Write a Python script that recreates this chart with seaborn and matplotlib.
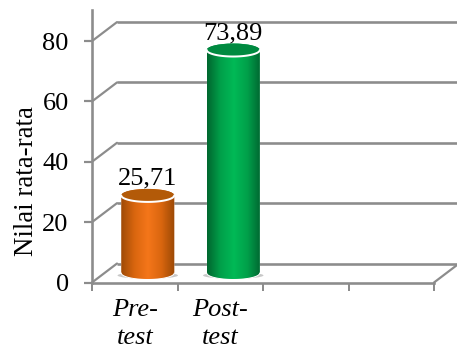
import numpy as np
import pandas as pd
import matplotlib
matplotlib.use("Agg")
import matplotlib.pyplot as plt
from matplotlib.colors import LinearSegmentedColormap
from matplotlib.patches import Ellipse
from matplotlib.path import Path
from matplotlib.transforms import ScaledTranslation
import seaborn as sns

categories = ["Pre-\ntest", "Post-\ntest"]
empty_slots = [" ", "  "]
values = [25.71, 73.89]
y_ticks = [0, 20, 40, 60, 80]
y_label = "Nilai rata-rata"

side_colors = [["#9E4A06", "#D9660F", "#F5761A", "#D9660F", "#9A4805"],
               ["#00662F", "#00A04A", "#00B956", "#00A04A", "#006530"]]
top_colors = ["#B35A08", "#008A40"]
frame_color = "#8C8C8C"

sns.set_theme(style="white")
plt.rcParams["font.family"] = ["Liberation Serif", "DejaVu Serif"]

W, H = 457, 354
DPI = 100
PX = 72 / DPI
fig = plt.figure(figsize=(W / DPI, H / DPI), dpi=DPI, facecolor="white")
ax = fig.add_axes([92 / W, (H - 282.5) / H, (434 - 92) / W, (282.5 - 10) / H])
ax.patch.set_alpha(0)

df = pd.DataFrame({"kelompok": categories, "nilai": values})
sns.barplot(data=df, x="kelompok", y="nilai", hue="kelompok",
            order=categories + empty_slots, hue_order=categories,
            palette=[c[2] for c in side_colors], width=0.62,
            legend=False, ax=ax, zorder=3)

ax.set_xlim(-0.5, 3.5)
ax.set_ylim(0, 90.3)


def shifted(dx, dy):
    """Data transform moved by a number of pixels, for the depth of the 3-D box."""
    return ax.transData + ScaledTranslation(dx * PX / 72, dy * PX / 72, fig.dpi_scale_trans)


# Back wall and the slanted edges on the left side and the floor
depth = shifted(25, 19)
for v in y_ticks:
    ax.plot([-0.5, 4.0], [v, v], transform=depth, color=frame_color,
            lw=2.6 * PX, clip_on=False, zorder=1, solid_capstyle="butt")
    ax.plot([-0.5, -0.5 + 25 / 85.5], [v, v + 19 / 3.02], color=frame_color,
            lw=2.2 * PX, clip_on=False, zorder=1)
ax.plot([3.5, 3.5 + 25 / 85.5], [0, 19 / 3.02], color=frame_color,
        lw=2.2 * PX, clip_on=False, zorder=1)

# Cylinders: each bar gets a shaded body clipped to its outline, plus end caps
bar_shift = shifted(13, 9.5)
semi_y = 6.5 / 3.02
theta = np.linspace(0, np.pi, 60)
bars = [p for p in ax.patches if p.get_height() > 0]
bars.sort(key=lambda p: p.get_x())
for i, bar in enumerate(bars):
    x0, w, h = bar.get_x(), bar.get_width(), bar.get_height()
    xc = x0 + w / 2
    bottom = np.column_stack([xc - w / 2 * np.cos(theta), -semi_y * np.sin(theta)])
    top = np.column_stack([xc + w / 2 * np.cos(theta), h + semi_y * np.sin(theta)])
    outline = Path(np.vstack([bottom, top, bottom[:1]]), closed=True)
    bar.set_transform(bar_shift)
    bar.set_clip_path(outline, bar_shift)
    bar.set_clip_on(True)
    cmap = LinearSegmentedColormap.from_list("side", side_colors[i])
    im = ax.imshow(np.linspace(0, 1, 256)[None, :], cmap=cmap, aspect="auto",
                   extent=(x0, x0 + w, -semi_y, h + semi_y), zorder=4,
                   transform=bar_shift)
    im.set_clip_path(outline, bar_shift)

    # Soft shadow on the floor under the bar
    ax.add_patch(Ellipse((xc, -0.8), w * 1.14, 2.2, transform=bar_shift,
                         facecolor="#C8C8C8", edgecolor="none", zorder=2, clip_on=False))

    # Top cap with a white rim along its front edge
    ax.add_patch(Ellipse((xc, h), w, 2 * semi_y, transform=bar_shift,
                         facecolor=top_colors[i], edgecolor="none", zorder=5, clip_on=False))
    ax.plot(xc - w / 2 * np.cos(theta), h - semi_y * np.sin(theta), transform=bar_shift,
            color="white", lw=2 * PX, zorder=5.5, clip_on=False)
    ax.plot(xc - w / 2 * np.cos(theta), -semi_y * np.sin(theta), transform=bar_shift,
            color="white", lw=1 * PX, zorder=5.5, clip_on=False)
    ax.text(xc, h + 6 / 3.02, f"{values[i]:.2f}".replace(".", ","),
            transform=bar_shift, ha="center", va="bottom", fontsize=19,
            color="black", zorder=6, clip_on=False)

ax.set_xlim(-0.5, 3.5)
ax.set_ylim(0, 90.3)

# Frame, ticks and labels
sns.despine(ax=ax)
for side in ("left", "bottom"):
    ax.spines[side].set_color(frame_color)
    ax.spines[side].set_linewidth(2.6 * PX)
ax.set_yticks(y_ticks)
ax.set_yticklabels([str(t) for t in y_ticks], fontsize=19)
ax.tick_params(axis="y", which="major", length=8 * PX, width=2.2 * PX, color=frame_color,
               pad=11, left=True, labelcolor="black")
ax.set_xticks(np.arange(-0.5, 4.0, 1.0))
ax.set_xticklabels([])
ax.set_xticks([0, 1], labels=categories, minor=True, fontsize=19, style="italic",
              linespacing=1.32)
ax.tick_params(axis="x", which="major", length=8 * PX, width=2 * PX, color=frame_color, bottom=True)
ax.tick_params(axis="x", which="minor", length=0, pad=12, labelcolor="black")
ax.set_xlabel("")
ax.set_ylabel(y_label, fontsize=19.4, color="black", va="center")
ax.yaxis.set_label_coords((27 - 92) / 342, (282.5 - 181) / 272.5)

fig.savefig("out.png", dpi=DPI, facecolor="white")
